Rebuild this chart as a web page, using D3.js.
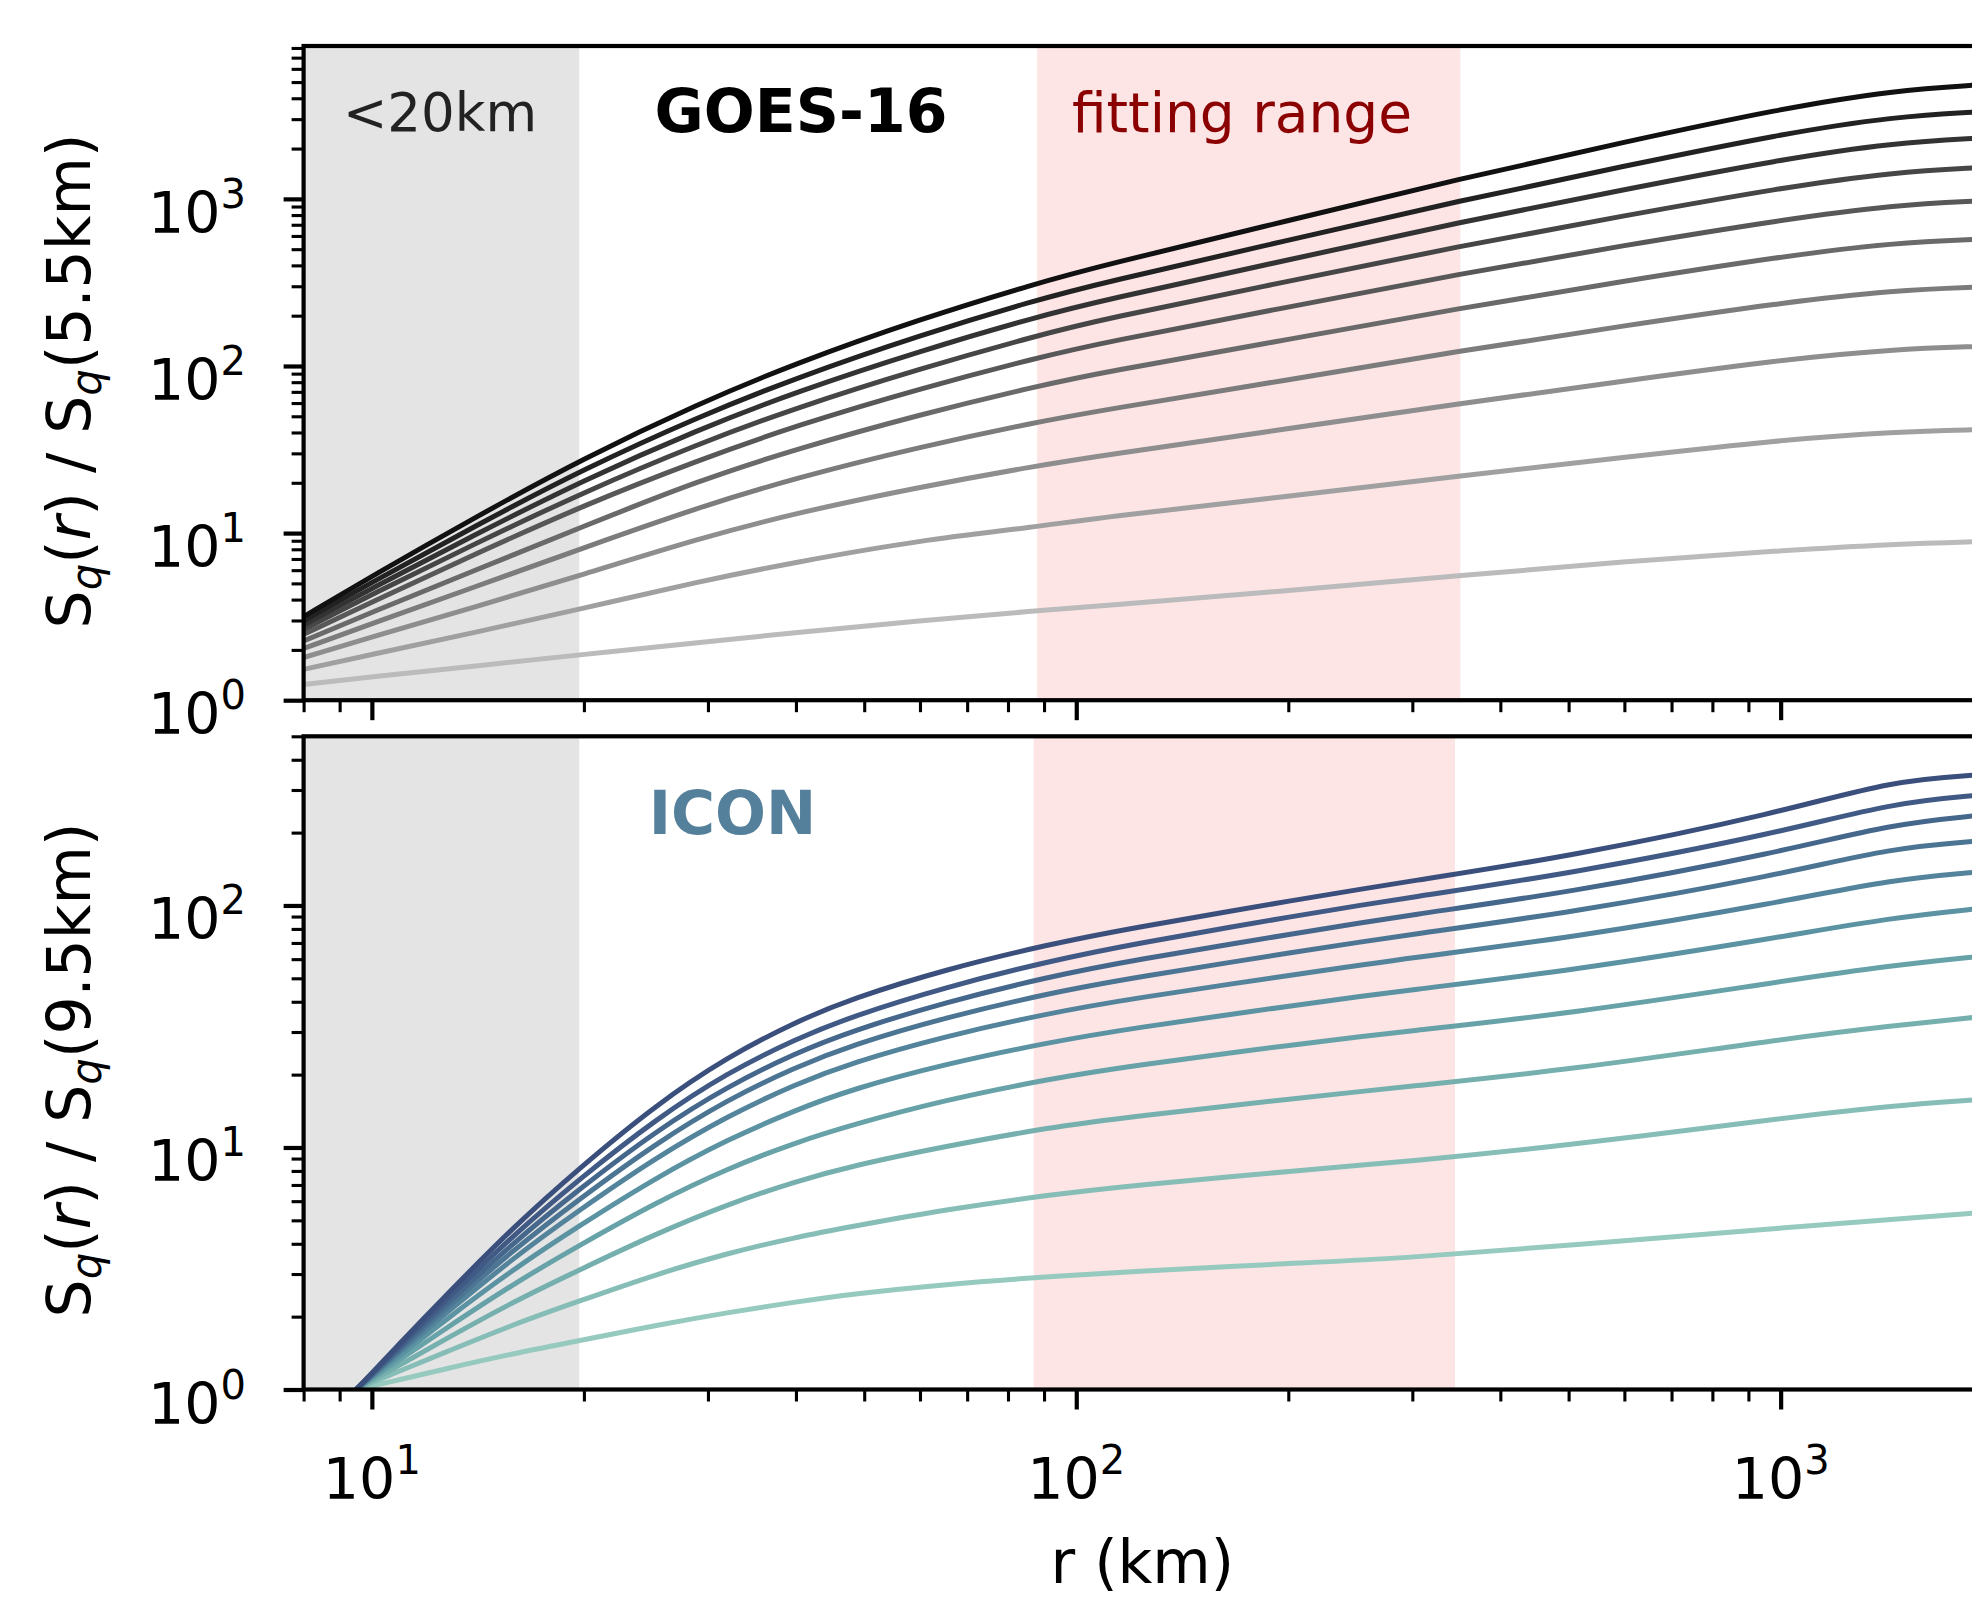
<!DOCTYPE html>
<html lang="en">
<head>
  <meta charset="UTF-8">
  <title>structure functions</title>
  <style>
    body { margin: 0; background: #fff; overflow: hidden; }
    svg { display: block; font-family: "DejaVu Sans", sans-serif; }
  </style>
</head>
<body>
  <div class="chart"></div>
  <script src="https://cdnjs.cloudflare.com/ajax/libs/d3/7.8.5/d3.min.js"></script>
  <script>
    // separation r (km) where the curves were read
    const rGoes = [8, 10, 14, 20, 29, 40, 60, 88, 108, 200, 350, 600, 1000, 1450, 1925];
    // GOES-16, S_q(r)/S_q(5.5km), q = 1 (lowest curve) ... 10 (top curve)
    const goesQ1  = [1.24, 1.38, 1.60, 1.88, 2.21, 2.54, 2.99, 3.43, 3.67, 4.52, 5.56, 6.76, 7.85, 8.61, 8.91];
    const goesQ2  = [1.53, 1.88, 2.54, 3.55, 5.12, 6.71, 9.07, 10.9, 12.4, 16.6, 22.0, 28.4, 36.1, 40.4, 41.6];
    const goesQ3  = [1.80, 2.39, 3.61, 5.67, 9.24, 13.2, 18.9, 25.3, 29.0, 42.1, 59.6, 81.3, 109, 126, 131];
    const goesQ4  = [2.04, 2.88, 4.76, 8.18, 14.2, 21.4, 32.8, 46.2, 54.1, 82.6, 123, 174, 239, 284, 297];
    const goesQ5  = [2.26, 3.37, 5.97, 11.0, 20.5, 31.8, 51.3, 75.7, 91.0, 144, 222, 322, 452, 547, 575];
    const goesQ6  = [2.48, 3.87, 7.48, 14.7, 27.2, 44.0, 73.3, 112, 137, 225, 356, 527, 748, 920, 973];
    const goesQ7  = [2.66, 4.29, 8.63, 17.6, 34.1, 56.2, 96.4, 152, 189, 321, 522, 793, 1164, 1449, 1538];
    const goesQ8  = [2.82, 4.67, 9.77, 20.8, 41.5, 70.0, 123, 197, 245, 431, 726, 1138, 1722, 2168, 2312];
    const goesQ9  = [2.99, 5.08, 11.0, 24.2, 49.4, 84.9, 153, 249, 312, 565, 975, 1570, 2443, 3112, 3327];
    const goesQ10 = [3.16, 5.52, 12.4, 28.1, 59.2, 104, 191, 313, 396, 741, 1318, 2188, 3467, 4467, 4820];

    const rIcon = [9.5, 11, 12.6, 15.9, 19.7, 25.3, 32, 40, 48, 65, 91.6, 119, 207, 297, 500, 1000, 1435, 1925];
    // ICON, S_q(r)/S_q(9.5km)
    const iconQ1  = [1, 1.10, 1.21, 1.41, 1.59, 1.84, 2.08, 2.30, 2.48, 2.72, 2.93, 3.07, 3.33, 3.50, 3.94, 4.65, 5.04, 5.38];
    const iconQ2  = [1, 1.20, 1.41, 1.86, 2.32, 2.99, 3.66, 4.26, 4.71, 5.53, 6.37, 6.95, 8.04, 8.77, 10.2, 13.2, 14.9, 15.8];
    const iconQ3  = [1, 1.27, 1.59, 2.31, 3.12, 4.40, 5.83, 7.25, 8.39, 10.1, 12.1, 13.4, 16.0, 17.9, 20.9, 28.0, 31.8, 34.7];
    const iconQ4  = [1, 1.34, 1.75, 2.74, 3.94, 5.92, 8.20, 10.5, 12.4, 15.7, 19.2, 21.7, 26.8, 30.3, 35.7, 48.5, 56.5, 61.7];
    const iconQ5  = [1, 1.39, 1.90, 3.15, 4.75, 7.50, 10.8, 14.3, 17.4, 22.1, 27.2, 31.0, 38.9, 44.8, 53.6, 74.0, 89.0, 97.3];
    const iconQ6  = [1, 1.44, 2.01, 3.51, 5.51, 9.08, 13.5, 18.3, 22.4, 28.8, 35.9, 41.1, 52.1, 60.8, 73.3, 103, 128, 138];
    const iconQ7  = [1, 1.47, 2.10, 3.79, 6.12, 10.4, 15.8, 21.5, 26.5, 34.4, 43.4, 50.0, 64.6, 75.9, 93.1, 134, 173, 185];
    const iconQ8  = [1, 1.50, 2.18, 4.06, 6.73, 11.7, 17.9, 24.6, 30.3, 39.8, 50.8, 59.1, 77.1, 91.4, 113, 166, 217, 236];
    const iconQ9  = [1, 1.53, 2.27, 4.36, 7.40, 13.1, 20.4, 28.1, 34.8, 45.9, 58.9, 68.9, 91.2, 108, 135, 200, 265, 286];
    const iconQ10 = [1, 1.57, 2.37, 4.71, 8.22, 15.0, 23.7, 33.1, 41.2, 54.3, 69.2, 80.4, 106, 126, 159, 242, 328, 347];

    const goesColors = ['#bbbbbb', '#a0a0a0', '#8e8e8e', '#7c7c7c', '#6a6a6a', '#585858', '#464646', '#333333', '#222222', '#111111'];
    const iconColors = ['#96cabf', '#86beb7', '#76b0ae', '#67a2a8', '#5b93a3', '#53849c', '#4c7594', '#46678c', '#405a85', '#3b4f7d'];

    const smallScaleLimit = 19.7;   // "<20km" band
    const goesFit = [88, 351];
    const iconFit = [87, 345];
    const xMajor = [10, 100, 1000];

    const width = 1972, height = 1603;
    const plotLeft = 303.6, plotRight = 1981;

    const svg = d3.select('.chart').append('svg')
      .attr('width', width)
      .attr('height', height);

    const x = d3.scaleLog().domain([8, 1925]).range([plotLeft, plotRight]);

    function minorTicks(lo, hi) {
      const out = [];
      for (let d = 1; d <= 1000; d *= 10) {
        for (let k = 2; k <= 9; k++) {
          const v = d * k;
          if (v >= lo && v <= hi) out.push(v);
        }
      }
      return out;
    }

    // text like 10^3 with a real superscript
    function powerLabel(sel, exp) {
      sel.text('10');
      sel.append('tspan').attr('font-size', 40).attr('dy', -25).text(exp);
    }

    const panels = [
      {
        name: 'goes', top: 46, bottom: 700.2, yMax: 8220,
        r: rGoes,
        series: [goesQ1, goesQ2, goesQ3, goesQ4, goesQ5, goesQ6, goesQ7, goesQ8, goesQ9, goesQ10],
        colors: goesColors, fit: goesFit, yMajor: [1, 10, 100, 1000],
        ref: '5.5km', labelY: 381
      },
      {
        name: 'icon', top: 736.3, bottom: 1389.5, yMax: 500,
        r: rIcon,
        series: [iconQ1, iconQ2, iconQ3, iconQ4, iconQ5, iconQ6, iconQ7, iconQ8, iconQ9, iconQ10],
        colors: iconColors, fit: iconFit, yMajor: [1, 10, 100],
        ref: '9.5km', labelY: 1070
      }
    ];

    panels.forEach(p => {
      const y = d3.scaleLog().domain([1, p.yMax]).range([p.bottom, p.top]);
      const g = svg.append('g');

      g.append('clipPath').attr('id', 'clip-' + p.name)
        .append('rect')
        .attr('x', plotLeft).attr('y', p.top)
        .attr('width', plotRight - plotLeft).attr('height', p.bottom - p.top);

      // shaded bands
      g.append('rect')
        .attr('x', x(8)).attr('y', p.top)
        .attr('width', x(smallScaleLimit) - x(8)).attr('height', p.bottom - p.top)
        .attr('fill', '#e4e4e4');
      g.append('rect')
        .attr('x', x(p.fit[0])).attr('y', p.top)
        .attr('width', x(p.fit[1]) - x(p.fit[0])).attr('height', p.bottom - p.top)
        .attr('fill', '#fde4e5');

      const line = d3.line()
        .x((v, i) => x(p.r[i]))
        .y(v => y(v))
        .curve(d3.curveBasis);

      g.append('g').attr('clip-path', 'url(#clip-' + p.name + ')')
        .selectAll('path')
        .data(p.series)
        .join('path')
        .attr('d', line)
        .attr('fill', 'none')
        .attr('stroke', (d, i) => p.colors[i])
        .attr('stroke-width', 5)
        .attr('stroke-linejoin', 'round');

      // y axis ticks
      g.append('g')
        .attr('transform', `translate(${plotLeft},0)`)
        .call(d3.axisLeft(y).tickValues(minorTicks(1, p.yMax)).tickSize(12).tickFormat(''))
        .call(a => a.select('.domain').remove())
        .call(a => a.selectAll('line').attr('stroke-width', 3.1));
      g.append('g')
        .attr('transform', `translate(${plotLeft},0)`)
        .call(d3.axisLeft(y).tickValues(p.yMajor).tickSize(20).tickFormat(''))
        .call(a => a.select('.domain').remove())
        .call(a => a.selectAll('line').attr('stroke-width', 4.2));

      p.yMajor.forEach(v => {
        g.append('text')
          .attr('x', 246).attr('y', y(v) + 34)
          .attr('text-anchor', 'end')
          .attr('font-size', 57)
          .attr('fill', '#000')
          .call(t => powerLabel(t, Math.round(Math.log10(v))));
      });

      // x axis ticks on both panels
      g.append('g')
        .attr('transform', `translate(0,${p.bottom})`)
        .call(d3.axisBottom(x).tickValues(minorTicks(8, 1925)).tickSize(12).tickFormat(''))
        .call(a => a.select('.domain').remove())
        .call(a => a.selectAll('line').attr('stroke-width', 3.1));
      g.append('g')
        .attr('transform', `translate(0,${p.bottom})`)
        .call(d3.axisBottom(x).tickValues(xMajor).tickSize(20).tickFormat(''))
        .call(a => a.select('.domain').remove())
        .call(a => a.selectAll('line').attr('stroke-width', 4.2));

      // frame
      g.append('rect')
        .attr('x', plotLeft).attr('y', p.top)
        .attr('width', plotRight - plotLeft).attr('height', p.bottom - p.top)
        .attr('fill', 'none').attr('stroke', '#000').attr('stroke-width', 4.2);

      // y label: S_q(r) / S_q(ref)
      const lab = g.append('text')
        .attr('transform', `translate(90,${p.labelY}) rotate(-90)`)
        .attr('text-anchor', 'middle')
        .attr('font-size', 60)
        .attr('fill', '#000');
      lab.append('tspan').text('S');
      lab.append('tspan').attr('font-size', 42).attr('font-style', 'italic').attr('dy', 11).text('q');
      lab.append('tspan').attr('dy', -11).text('(');
      lab.append('tspan').attr('font-style', 'italic').text('r');
      lab.append('tspan').text(') / S');
      lab.append('tspan').attr('font-size', 42).attr('font-style', 'italic').attr('dy', 11).text('q');
      lab.append('tspan').attr('dy', -11).text('(' + p.ref + ')');
    });

    // x tick labels under the lower panel
    xMajor.forEach(v => {
      svg.append('text')
        .attr('x', x(v)).attr('y', 1499)
        .attr('text-anchor', 'middle')
        .attr('font-size', 57)
        .call(t => powerLabel(t, Math.round(Math.log10(v))));
    });

    svg.append('text')
      .attr('x', (plotLeft + plotRight) / 2).attr('y', 1583)
      .attr('text-anchor', 'middle').attr('font-size', 60)
      .text('r (km)');

    // annotations
    svg.append('text').attr('x', 440).attr('y', 131)
      .attr('text-anchor', 'middle').attr('font-size', 53).attr('fill', '#222')
      .text('<20km');
    svg.append('text').attr('x', 801).attr('y', 131.7)
      .attr('text-anchor', 'middle').attr('font-size', 60).attr('font-weight', 'bold')
      .text('GOES-16');
    svg.append('text').attr('x', 1242).attr('y', 131.7)
      .attr('text-anchor', 'middle').attr('font-size', 55).attr('fill', '#8b0000')
      .text('fitting range');
    svg.append('text').attr('x', 732.5).attr('y', 834)
      .attr('text-anchor', 'middle').attr('font-size', 60).attr('font-weight', 'bold')
      .attr('fill', '#55809c')
      .text('ICON');
  </script>
</body>
</html>
